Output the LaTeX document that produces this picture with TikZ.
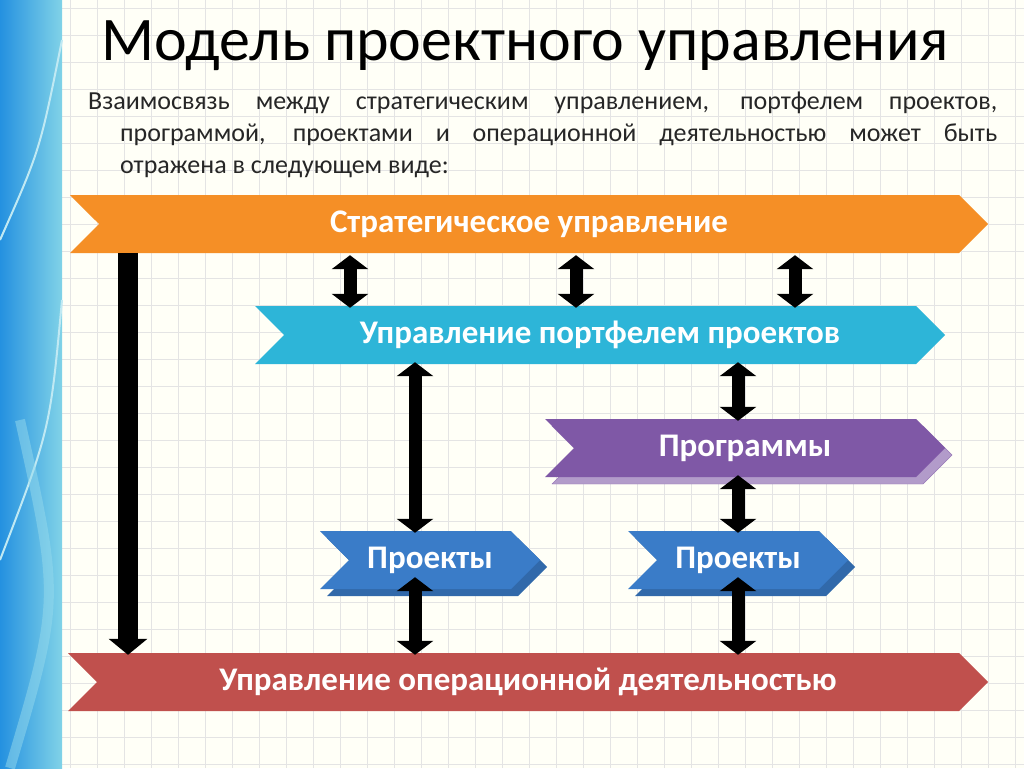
\documentclass[tikz,border=0pt]{standalone}
\usepackage{fontspec}
\setmainfont{Carlito}
\usetikzlibrary{positioning,shapes.symbols,arrows.meta}
\definecolor{strOrange}{HTML}{F58F26}
\definecolor{pfCyan}{HTML}{2DB5D8}
\definecolor{prPurple}{HTML}{7F58A6}
\definecolor{pjBlue}{HTML}{3A7CC8}
\definecolor{opRed}{HTML}{C0504D}
\definecolor{gridGray}{HTML}{E4E4E4}
\tikzset{%
	banner/.style={
		signal,
		signal to=east,
		signal from=west,
		signal pointer angle=90,
		inner sep=0pt,
		minimum height=58pt,
		text=white,
		font=\fontsize{33}{35}\selectfont\bfseries
	},
	banner-shadow/.style={ signal, signal to=east, signal from=west,
		signal pointer angle=90, inner sep=0pt, minimum height=58pt },
	dbl/.style={
		line width=13pt,
		{Triangle[width=36pt,length=14pt]}-{Triangle[width=36pt,length=14pt]}
	},
	sgl/.style={
		line width=20pt,
		-{Triangle[width=38pt,length=16pt]}
	},
}
\begin{document}
\begin{tikzpicture}[x=1pt, y=-1pt]
\useasboundingbox (0,0) rectangle (1024,768);
% background
\fill[white!97!yellow] (0,0) rectangle (1024,768);
\foreach \x in {70,97,...,1024}
	\draw[gridGray, line width=0.8pt] (\x,0) -- (\x,768);
\foreach \y in {8,35,...,768}
	\draw[gridGray, line width=0.8pt] (62,\y) -- (1024,\y);
\shade[left color=pfCyan!80!blue, right color=pfCyan!60!white] (0,0) rectangle (62,768);
\draw[white!70!pfCyan, line width=2pt] (0,240) .. controls (40,150) .. (62,40);
\draw[white!70!pfCyan, line width=2pt] (0,560) .. controls (50,430) .. (62,300);
\draw[white!50!pfCyan, line width=10pt, opacity=0.5] (10,768) .. controls (60,600) .. (20,420);

% title and text
\node[anchor=west, font=\fontsize{62}{64}\selectfont] (title) at (98,46) {Модель проектного управления};
\node[anchor=north west, align=left, inner sep=0pt,
	font=\fontsize{26}{32}\selectfont, text=black!85] (intro) at (88,92)
	{\makebox[909pt][s]{Взаимосвязь между стратегическим управлением, портфелем проектов,}\\
	 \hspace*{32pt}\makebox[877pt][s]{программой, проектами и операционной деятельностью может быть}\\
	 \hspace*{32pt}отражена в следующем виде:};

% banners
\node[banner, fill=strOrange, minimum width=918pt] (strat) at (529,224) {Стратегическое управление};
\node[banner, fill=pfCyan, minimum width=690pt] (portf) at (600,335) {Управление портфелем проектов};
\node[banner-shadow, fill=prPurple!60, draw=prPurple!80, minimum width=400pt] at (752,455) {};
\node[banner, fill=prPurple, minimum width=400pt] (progr) at (745,448) {Программы};
\node[banner-shadow, fill=pjBlue!85!black, minimum width=220pt] at (437,567) {};
\node[banner, fill=pjBlue, minimum width=220pt] (proj1) at (430,560) {Проекты};
\node[banner-shadow, fill=pjBlue!85!black, minimum width=220pt] at (745,567) {};
\node[banner, fill=pjBlue, minimum width=220pt] (proj2) at (738,560) {Проекты};
\node[banner, fill=opRed, minimum width=920pt] (oper) at (528,682) {Управление операционной деятельностью};

% connectors
\foreach \x in {350,576,795}
	\draw[dbl] (strat.south -| \x,0) ++(0,2) -- ([yshift=-2pt]portf.north -| \x,0);
\draw[sgl] (strat.south -| 128,0) -- ([yshift=-2pt]oper.north -| 128,0);
\draw[dbl] ([yshift=2pt]portf.south -| 415,0) -- ([yshift=-2pt]proj1.north -| 415,0);
\draw[dbl] ([yshift=2pt]portf.south -| 738,0) -- ([yshift=-2pt]progr.north -| 738,0);
\draw[dbl] ([yshift=2pt]progr.south -| 738,0) -- ([yshift=-2pt]proj2.north -| 738,0);
\draw[dbl] ([yshift=12pt]proj1.south -| 415,0) -- ([yshift=-2pt]oper.north -| 415,0);
\draw[dbl] ([yshift=12pt]proj2.south -| 738,0) -- ([yshift=-2pt]oper.north -| 738,0);
\end{tikzpicture}
\end{document}
